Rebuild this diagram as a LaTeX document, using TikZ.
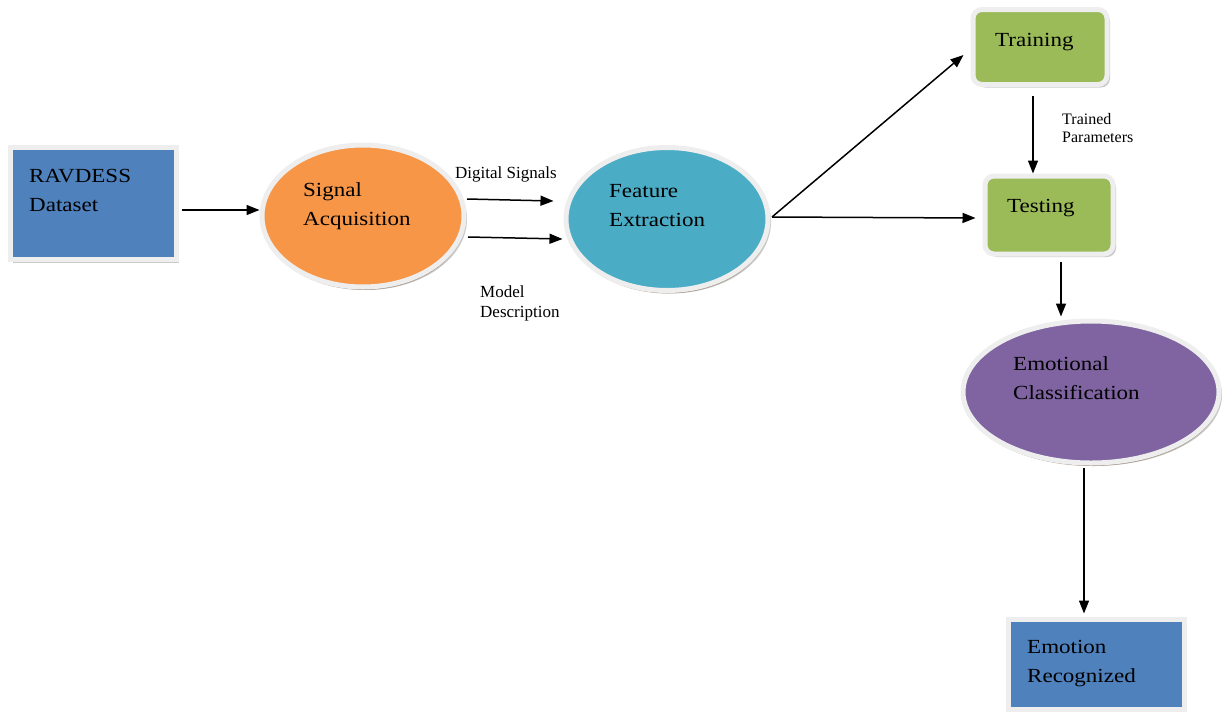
\documentclass[tikz,border=0pt]{standalone}
\usepackage{fontspec}
\setmainfont{Liberation Serif}
\newfontfamily\lserif{Liberation Serif}
\usetikzlibrary{shapes.geometric,arrows.meta,shadows}
\definecolor{cblue}{HTML}{4F81BD}
\definecolor{corange}{HTML}{F79646}
\definecolor{cteal}{HTML}{4BACC6}
\definecolor{cgreen}{HTML}{9BBB59}
\definecolor{cpurple}{HTML}{8064A2}
\definecolor{cframe}{HTML}{EEEEEE}
\newcommand{\lines}[1]{\begin{tabular}[t]{@{}l@{}}#1\end{tabular}}
\newcommand{\biglbl}[1]{\scalebox{1.15}[1]{\lines{#1}}}
\tikzset{
  frame/.style={draw=cframe, line width=5pt, inner sep=0pt,
    drop shadow={shadow xshift=3pt, shadow yshift=-3pt, fill=black!35, opacity=0.6}},
  sqbox/.style={frame, rectangle},
  rbox/.style={frame, rectangle, rounded corners=9pt},
  oval/.style={frame, ellipse,
    drop shadow={shadow xshift=1pt, shadow yshift=-3pt, fill=brown!60!black, opacity=0.4}},
  bigtxt/.style={inner sep=0pt, anchor=base west, font=\lserif\fontsize{20}{29.5}\selectfont},
  smalltxt/.style={inner sep=0pt, anchor=base west, font=\lserif\fontsize{17}{20}\selectfont},
  arr/.style={-{Triangle[length=13pt,width=10pt]}, line width=1.5pt, black},
}
\begin{document}
\begin{tikzpicture}[x=1pt,y=-1pt]
\useasboundingbox (0,0) rectangle (1231,715);
% shapes
\node[sqbox, fill=cblue, minimum width=166pt, minimum height=112pt] (rav) at (93,203.5) {};
\node[oval, fill=corange, minimum width=202pt, minimum height=142pt] (sig) at (363,216) {};
\node[oval, fill=cteal, minimum width=202pt, minimum height=143pt] (fe) at (667,219) {};
\node[rbox, fill=cgreen, minimum width=134pt, minimum height=75pt] (train) at (1040,47) {};
\node[rbox, fill=cgreen, minimum width=128pt, minimum height=78pt] (test) at (1049,215) {};
\node[oval, fill=cpurple, minimum width=256pt, minimum height=142pt] (emo) at (1091,392) {};
\node[sqbox, fill=cblue, minimum width=176pt, minimum height=90pt] (rec) at (1096,664) {};
% texts
\node[bigtxt] (ravt) at (29,182) {\biglbl{RAVDESS\\Dataset}};
\node[bigtxt] (sigt) at (303,196) {\biglbl{Signal\\Acquisition}};
\node[bigtxt] (fet) at (609,197) {\biglbl{Feature\\Extraction}};
\node[bigtxt] (traint) at (995,46) {\biglbl{Training}};
\node[bigtxt] (testt) at (1007,212) {\biglbl{Testing}};
\node[bigtxt] (emot) at (1013,370) {\biglbl{Emotional\\Classification}};
\node[bigtxt] (rect) at (1027,653) {\biglbl{Emotion\\Recognized}};
\node[smalltxt] (dig) at (455,178) {Digital Signals};
\node[smalltxt] (mod) at (480,297) {\lines{Model\\Description}};
\node[smalltxt, font=\lserif\fontsize{16}{18.5}\selectfont] (tp) at (1062,124) {\lines{Trained\\Parameters}};
% connectors
\draw[arr] ([xshift=3pt,yshift=-6.5pt]rav.east) -- ([yshift=6pt]sig.west);
\draw[arr] ([xshift=0.5pt,yshift=17pt]sig.east) -- ([xshift=-10pt,yshift=18pt]fe.west);
\draw[arr] ([xshift=1.5pt,yshift=-21pt]sig.east) -- ([xshift=-1pt,yshift=-20pt]fe.west);
\draw[arr] ([xshift=1.5pt,yshift=2pt]fe.east) -- ([xshift=-7pt,yshift=-8pt]train.west);
\draw[arr] ([xshift=1.5pt,yshift=2pt]fe.east) -- ([xshift=-7pt,yshift=-3pt]test.west);
\draw[arr] ([xshift=-7pt,yshift=-9pt]train.south) -- ([xshift=-16pt]test.north);
\draw[arr] ([xshift=12pt,yshift=-5pt]test.south) -- ([xshift=-30pt,yshift=2pt]emo.north);
\draw[arr] ([xshift=-7pt,yshift=-2pt]emo.south) -- ([xshift=-12pt,yshift=3pt]rec.north);
\end{tikzpicture}
\end{document}
